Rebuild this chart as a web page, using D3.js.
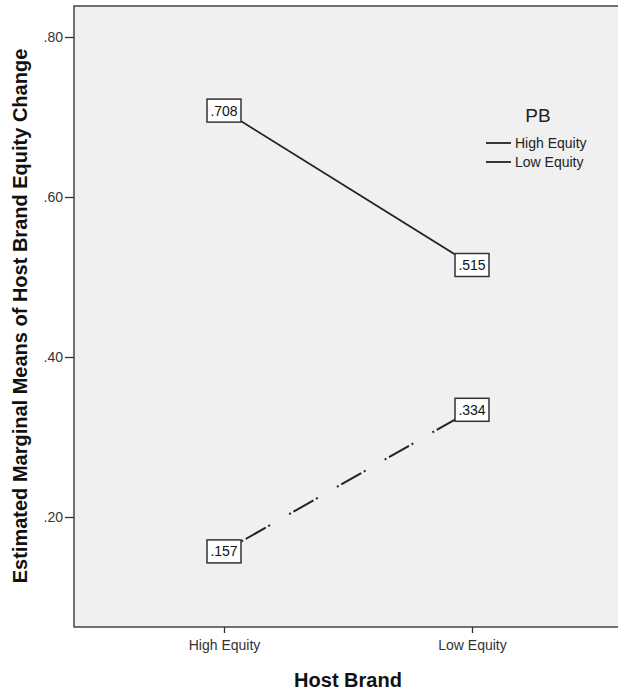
<!DOCTYPE html>
<html>
<head>
<meta charset="utf-8">
<script src="https://cdn.jsdelivr.net/npm/d3@7"></script>
<style>
  body { margin: 0; background: #fff; }
  svg text { font-family: Arial, "Liberation Sans", sans-serif; }
</style>
</head>
<body>
<svg id="chart"></svg>
<script>
// categories on the x axis (Host Brand)
const hostBrands = ['High Equity', 'Low Equity'];
// legend groups (PB)
const pbGroups = ['High Equity', 'Low Equity'];
// estimated marginal means per PB group, in hostBrands order
const highEquityMeans = [0.708, 0.515];
const lowEquityMeans = [0.157, 0.334];
const yTicks = [0.20, 0.40, 0.60, 0.80];

const width = 618, height = 692;
const frame = {left: 74, top: 6, right: 622, bottom: 627};

const svg = d3.select('#chart')
    .attr('width', width)
    .attr('height', height);

const x = d3.scalePoint()
    .domain(hostBrands)
    .range([224, 472]);

const y = d3.scaleLinear()
    .domain([0.2, 0.8])
    .range([517, 37]);

// plot background + frame
svg.append('rect')
    .attr('x', frame.left)
    .attr('y', frame.top)
    .attr('width', frame.right - frame.left)
    .attr('height', frame.bottom - frame.top)
    .attr('fill', '#f0f0f0')
    .attr('stroke', '#444')
    .attr('stroke-width', 1.5);

// y axis
const yAxisG = svg.append('g')
    .attr('transform', `translate(${frame.left},0)`)
    .call(d3.axisLeft(y)
        .tickValues(yTicks)
        .tickSize(9)
        .tickPadding(2)
        .tickFormat(d => d3.format('.2f')(d).replace(/^0/, '')));
yAxisG.select('.domain').remove();
yAxisG.selectAll('line').attr('stroke', '#333').attr('stroke-width', 1.3);
yAxisG.selectAll('text')
    .style('font-size', '14px')
    .attr('fill', '#333');

// x axis
const xAxisG = svg.append('g')
    .attr('transform', `translate(0,${frame.bottom})`)
    .call(d3.axisBottom(x).tickSize(6).tickPadding(7));
xAxisG.select('.domain').remove();
xAxisG.selectAll('line').attr('stroke', '#333').attr('stroke-width', 1.3);
xAxisG.selectAll('text')
    .style('font-size', '14px')
    .attr('fill', '#333');

// axis titles
svg.append('text')
    .attr('x', 348)
    .attr('y', 687)
    .attr('text-anchor', 'middle')
    .style('font-size', '20px')
    .style('font-weight', 'bold')
    .attr('fill', '#111')
    .text('Host Brand');

svg.append('text')
    .attr('transform', 'translate(27,316) rotate(-90)')
    .attr('text-anchor', 'middle')
    .style('font-size', '20px')
    .style('font-weight', 'bold')
    .attr('fill', '#111')
    .text('Estimated Marginal Means of Host Brand Equity Change');

// series
const series = [
    {name: pbGroups[0], values: highEquityMeans, dash: null, width: 1.8},
    {name: pbGroups[1], values: lowEquityMeans, dash: '2,3,23,3,2,22', width: 2}
];

const line = d3.line()
    .x((d, i) => x(hostBrands[i]))
    .y(d => y(d));

svg.selectAll('.series')
    .data(series)
    .join('path')
    .attr('class', 'series')
    .attr('d', d => line(d.values))
    .attr('fill', 'none')
    .attr('stroke', '#222')
    .attr('stroke-width', d => d.width)
    .attr('stroke-dasharray', d => d.dash)
    .attr('stroke-dashoffset', d => d.dash ? -20 : null);

// value labels in boxes
const points = series.flatMap(s => s.values.map((v, i) => ({brand: hostBrands[i], v})));
const labels = svg.selectAll('.lbl')
    .data(points)
    .join('g')
    .attr('class', 'lbl')
    .attr('transform', d => `translate(${x(d.brand)},${y(d.v)})`);
labels.append('rect')
    .attr('x', -17)
    .attr('y', -11.5)
    .attr('width', 34)
    .attr('height', 23)
    .attr('fill', '#fff')
    .attr('stroke', '#333')
    .attr('stroke-width', 1.5);
labels.append('text')
    .attr('text-anchor', 'middle')
    .attr('dy', '0.36em')
    .style('font-size', '14px')
    .attr('fill', '#111')
    .text(d => d3.format('.3f')(d.v).replace(/^0/, ''));

// legend
const legend = svg.append('g');
legend.append('text')
    .attr('x', 538)
    .attr('y', 122)
    .attr('text-anchor', 'middle')
    .style('font-size', '19px')
    .attr('fill', '#222')
    .text('PB');
const items = legend.selectAll('.item')
    .data(series)
    .join('g')
    .attr('class', 'item')
    .attr('transform', (d, i) => `translate(0,${143 + i * 19})`);
items.append('line')
    .attr('x1', 486)
    .attr('x2', 511)
    .attr('stroke', '#222')
    .attr('stroke-width', 1.8);
items.append('text')
    .attr('x', 515)
    .attr('dy', '0.36em')
    .style('font-size', '14px')
    .attr('fill', '#222')
    .text(d => d.name);
</script>
</body>
</html>
